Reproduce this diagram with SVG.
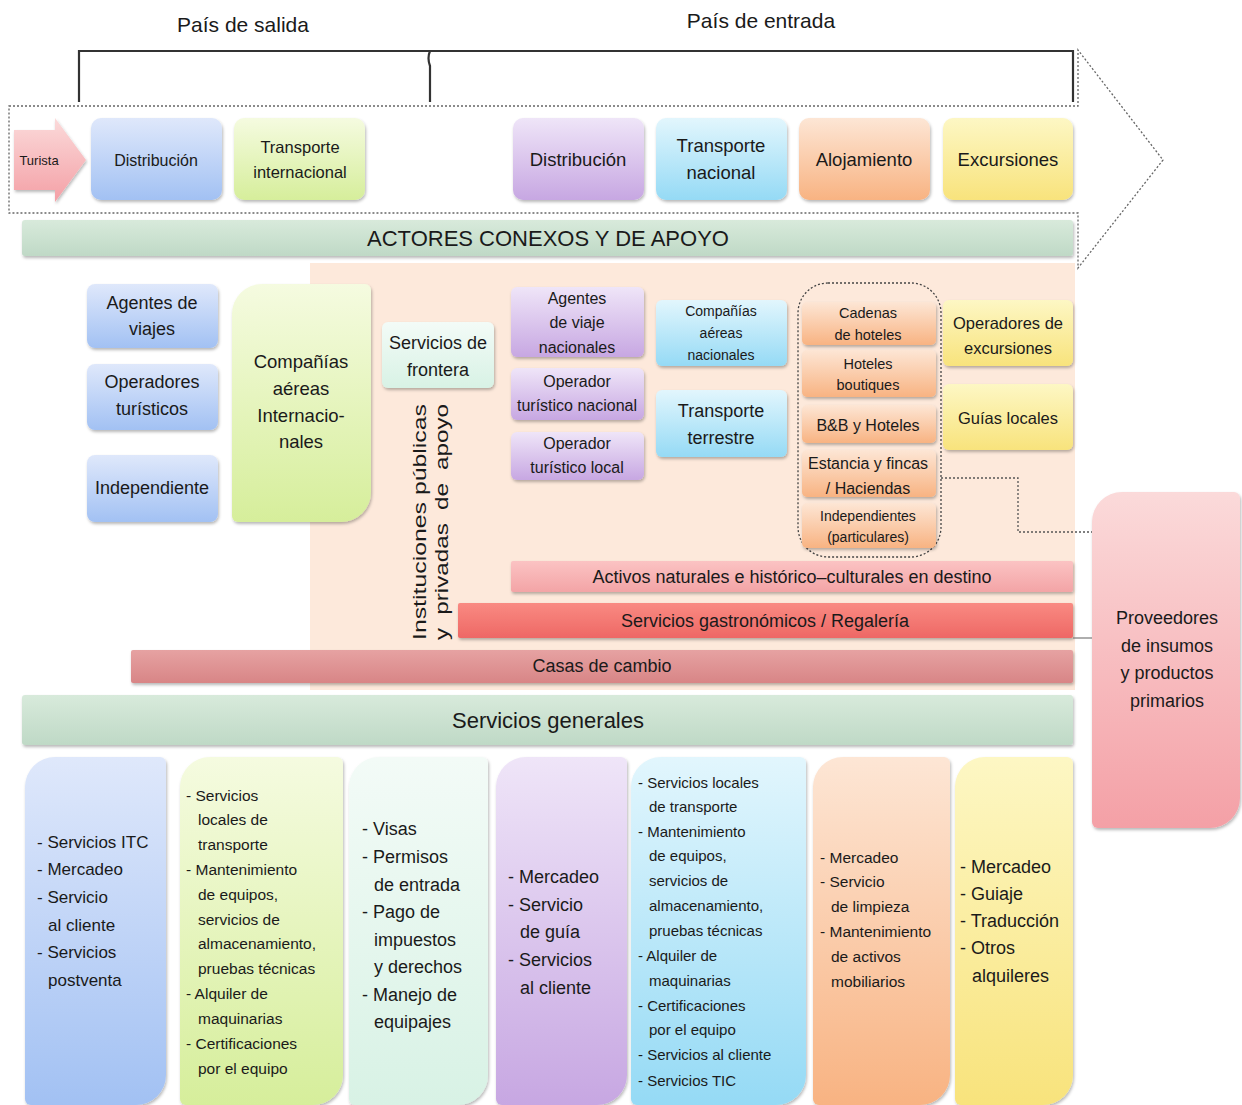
<svg xmlns="http://www.w3.org/2000/svg" width="1242" height="1105" viewBox="0 0 1242 1105">
<defs>
<linearGradient id="gBlue" x1="0" y1="0" x2="0" y2="1"><stop offset="0" stop-color="#dfe8fb"/><stop offset="1" stop-color="#a2c1f3"/></linearGradient>
<linearGradient id="gGreen" x1="0" y1="0" x2="0" y2="1"><stop offset="0" stop-color="#f5fbe0"/><stop offset="1" stop-color="#d6ee9b"/></linearGradient>
<linearGradient id="gMint" x1="0" y1="0" x2="0" y2="1"><stop offset="0" stop-color="#f3fbf7"/><stop offset="1" stop-color="#d8f2e5"/></linearGradient>
<linearGradient id="gPurple" x1="0" y1="0" x2="0" y2="1"><stop offset="0" stop-color="#efe5f8"/><stop offset="1" stop-color="#c7a7e2"/></linearGradient>
<linearGradient id="gCyan" x1="0" y1="0" x2="0" y2="1"><stop offset="0" stop-color="#e2f6fd"/><stop offset="1" stop-color="#95daf5"/></linearGradient>
<linearGradient id="gOrange" x1="0" y1="0" x2="0" y2="1"><stop offset="0" stop-color="#fde6d5"/><stop offset="1" stop-color="#f8b382"/></linearGradient>
<linearGradient id="gYellow" x1="0" y1="0" x2="0" y2="1"><stop offset="0" stop-color="#fdf7c4"/><stop offset="1" stop-color="#f8e37c"/></linearGradient>
<linearGradient id="gPink" x1="0" y1="0" x2="0" y2="1"><stop offset="0" stop-color="#fbdada"/><stop offset="1" stop-color="#f4a0a6"/></linearGradient>
<linearGradient id="gGrey" x1="0" y1="0" x2="0" y2="1"><stop offset="0" stop-color="#d8eadb"/><stop offset="1" stop-color="#bfd9c6"/></linearGradient>
<linearGradient id="gActivos" x1="0" y1="0" x2="0" y2="1"><stop offset="0" stop-color="#fbc3c3"/><stop offset="1" stop-color="#f3a4a6"/></linearGradient>
<linearGradient id="gGastro" x1="0" y1="0" x2="0" y2="1"><stop offset="0" stop-color="#f98a82"/><stop offset="1" stop-color="#ee6865"/></linearGradient>
<linearGradient id="gCasas" x1="0" y1="0" x2="0" y2="1"><stop offset="0" stop-color="#e6a2a2"/><stop offset="1" stop-color="#d88586"/></linearGradient>
<filter id="sh" x="-10%" y="-10%" width="130%" height="130%"><feDropShadow dx="1" dy="2" stdDeviation="1.5" flood-color="#000" flood-opacity="0.28"/></filter>
</defs>
<style>
text{font-family:"Liberation Sans",Arial,sans-serif;fill:#1a1a1a}
.c{text-anchor:middle}
.dot{fill:none;stroke:#666;stroke-width:1.3;stroke-dasharray:2 2}
.brk{fill:none;stroke:#333;stroke-width:2.2}
.box{filter:url(#sh)}
</style>
<rect width="1242" height="1105" fill="#ffffff"/>

<g id="headers">
<text class="c" x="243" y="32" font-size="21">País de salida</text>
<text class="c" x="761" y="28" font-size="21">País de entrada</text>
<path class="brk" d="M79,102 V51 H1073 V102 M430,51 Q427,58 430,66 V102"/>
</g>

<g id="value-chain-arrow">
<path class="dot" d="M9,106 H1078 V50 L1163,160 L1078,268 V213 H9 Z"/>
</g>

<g id="turista">
<polygon class="box" points="14,130 55,130 55,118 86,160 55,202 55,190 14,190" fill="url(#gPink)"/>
<text class="c" x="39" y="165" font-size="13">Turista</text>
</g>
<g id="distribucion-salida">
<rect class="box" x="91" y="118" width="131" height="82" rx="10" fill="url(#gBlue)"/>
<text class="c" x="156" y="166" font-size="16">Distribución</text>
</g>
<g id="transporte-internacional">
<rect class="box" x="234" y="118" width="131" height="82" rx="10" fill="url(#gGreen)"/>
<text class="c" x="300" y="153" font-size="16.5">Transporte</text>
<text class="c" x="300" y="178" font-size="16.5">internacional</text>
</g>
<g id="distribucion-entrada">
<rect class="box" x="513" y="118" width="131" height="82" rx="10" fill="url(#gPurple)"/>
<text class="c" x="578" y="166" font-size="18.5">Distribución</text>
</g>
<g id="transporte-nacional">
<rect class="box" x="656" y="118" width="131" height="82" rx="10" fill="url(#gCyan)"/>
<text class="c" x="721" y="152" font-size="18.5">Transporte</text>
<text class="c" x="721" y="179" font-size="18.5">nacional</text>
</g>
<g id="alojamiento">
<rect class="box" x="799" y="118" width="131" height="82" rx="10" fill="url(#gOrange)"/>
<text class="c" x="864" y="166" font-size="18.5">Alojamiento</text>
</g>
<g id="excursiones">
<rect class="box" x="943" y="118" width="130" height="82" rx="10" fill="url(#gYellow)"/>
<text class="c" x="1008" y="166" font-size="18.5">Excursiones</text>
</g>

<g id="actores-conexos">
<rect class="box" x="22" y="220" width="1051" height="36" rx="3" fill="url(#gGrey)"/>
<text class="c" x="548" y="246" font-size="22">ACTORES CONEXOS Y DE APOYO</text>
</g>

<g id="panel-destino">
<rect x="310" y="263" width="765" height="427" fill="#fde9db"/>
</g>

<g id="agentes-de-viajes">
<rect class="box" x="87" y="284" width="131" height="64" rx="8" fill="url(#gBlue)"/>
<text class="c" x="152" y="309" font-size="18">Agentes de</text>
<text class="c" x="152" y="335" font-size="18">viajes</text>
</g>
<g id="operadores-turisticos">
<rect class="box" x="87" y="364" width="131" height="66" rx="8" fill="url(#gBlue)"/>
<text class="c" x="152" y="388" font-size="18">Operadores</text>
<text class="c" x="152" y="415" font-size="18">turísticos</text>
</g>
<g id="independiente">
<rect class="box" x="87" y="455" width="131" height="67" rx="8" fill="url(#gBlue)"/>
<text class="c" x="152" y="494" font-size="18">Independiente</text>
</g>
<g id="companias-aereas-internacionales">
<path class="box" d="M262,284 H365 A6 6 0 0 1 371,290 V492 A30 30 0 0 1 341,522 H238 A6 6 0 0 1 232,516 V314 A30 30 0 0 1 262,284 Z" fill="url(#gGreen)"/>
<text class="c" x="301" y="368" font-size="18.5">Compañías</text>
<text class="c" x="301" y="395" font-size="18.5">aéreas</text>
<text class="c" x="301" y="422" font-size="18.5">Internacio-</text>
<text class="c" x="301" y="448" font-size="18.5">nales</text>
</g>
<g id="servicios-frontera">
<rect class="box" x="382" y="322" width="112" height="66" rx="6" fill="url(#gMint)"/>
<text class="c" x="438" y="349" font-size="18">Servicios de</text>
<text class="c" x="438" y="376" font-size="18">frontera</text>
</g>
<g id="instituciones">
<text transform="translate(426,640) rotate(-90)" font-size="19" textLength="236" lengthAdjust="spacingAndGlyphs">Instituciones públicas</text>
<text transform="translate(448,640) rotate(-90)" font-size="19" word-spacing="5" textLength="236" lengthAdjust="spacingAndGlyphs">y privadas de apoyo</text>
</g>

<g id="agentes-viaje-nacionales">
<rect class="box" x="511" y="287" width="133" height="70" rx="6" fill="url(#gPurple)"/>
<text class="c" x="577" y="304" font-size="16">Agentes</text>
<text class="c" x="577" y="328" font-size="16">de viaje</text>
<text class="c" x="577" y="353" font-size="16">nacionales</text>
</g>
<g id="operador-turistico-nacional">
<rect class="box" x="511" y="368" width="133" height="52" rx="6" fill="url(#gPurple)"/>
<text class="c" x="577" y="387" font-size="16">Operador</text>
<text class="c" x="577" y="411" font-size="16">turístico nacional</text>
</g>
<g id="operador-turistico-local">
<rect class="box" x="511" y="432" width="133" height="48" rx="6" fill="url(#gPurple)"/>
<text class="c" x="577" y="449" font-size="16">Operador</text>
<text class="c" x="577" y="473" font-size="16">turístico local</text>
</g>
<g id="companias-aereas-nacionales">
<rect class="box" x="656" y="300" width="131" height="66" rx="6" fill="url(#gCyan)"/>
<text class="c" x="721" y="316" font-size="14">Compañías</text>
<text class="c" x="721" y="338" font-size="14">aéreas</text>
<text class="c" x="721" y="360" font-size="14">nacionales</text>
</g>
<g id="transporte-terrestre">
<rect class="box" x="656" y="390" width="131" height="67" rx="6" fill="url(#gCyan)"/>
<text class="c" x="721" y="417" font-size="18">Transporte</text>
<text class="c" x="721" y="444" font-size="18">terrestre</text>
</g>

<g id="alojamiento-grupo">
<rect class="dot" x="798" y="283" width="143" height="274" rx="30" style="stroke:#444"/>
</g>
<g id="cadenas-hoteles">
<rect class="box" x="802" y="302" width="134" height="43" rx="5" fill="url(#gOrange)"/>
<text class="c" x="868" y="318" font-size="14.5">Cadenas</text>
<text class="c" x="868" y="340" font-size="14.5">de hoteles</text>
</g>
<g id="hoteles-boutiques">
<rect class="box" x="802" y="350" width="134" height="47" rx="5" fill="url(#gOrange)"/>
<text class="c" x="868" y="369" font-size="14.5">Hoteles</text>
<text class="c" x="868" y="390" font-size="14.5">boutiques</text>
</g>
<g id="bb-hoteles">
<rect class="box" x="802" y="405" width="134" height="38" rx="5" fill="url(#gOrange)"/>
<text class="c" x="868" y="431" font-size="16">B&amp;B y Hoteles</text>
</g>
<g id="estancias">
<rect class="box" x="802" y="450" width="134" height="47" rx="5" fill="url(#gOrange)"/>
<text class="c" x="868" y="469" font-size="16">Estancia y fincas</text>
<text class="c" x="868" y="494" font-size="16">/ Haciendas</text>
</g>
<g id="independientes">
<rect class="box" x="802" y="503" width="134" height="45" rx="5" fill="url(#gOrange)"/>
<text class="c" x="868" y="521" font-size="14">Independientes</text>
<text class="c" x="868" y="542" font-size="14">(particulares)</text>
</g>

<g id="operadores-excursiones">
<rect class="box" x="943" y="300" width="130" height="66" rx="6" fill="url(#gYellow)"/>
<text class="c" x="1008" y="329" font-size="16.5">Operadores de</text>
<text class="c" x="1008" y="354" font-size="16.5">excursiones</text>
</g>
<g id="guias-locales">
<rect class="box" x="943" y="384" width="130" height="66" rx="6" fill="url(#gYellow)"/>
<text class="c" x="1008" y="424" font-size="16.5">Guías locales</text>
</g>

<g id="activos-naturales">
<rect class="box" x="511" y="561" width="562" height="31" rx="2" fill="url(#gActivos)"/>
<text class="c" x="792" y="583" font-size="18">Activos naturales e histórico–culturales en destino</text>
</g>
<g id="servicios-gastronomicos">
<rect class="box" x="458" y="603" width="615" height="35" rx="2" fill="url(#gGastro)"/>
<text class="c" x="765" y="627" font-size="18">Servicios gastronómicos / Regalería</text>
</g>
<g id="casas-cambio">
<rect class="box" x="131" y="650" width="942" height="33" rx="2" fill="url(#gCasas)"/>
<text class="c" x="602" y="672" font-size="18">Casas de cambio</text>
</g>
<g id="servicios-generales">
<rect class="box" x="22" y="695" width="1051" height="50" rx="3" fill="url(#gGrey)"/>
<text class="c" x="548" y="728" font-size="22">Servicios generales</text>
</g>

<g id="proveedores">
<path class="box" d="M1122,492 H1234 A6 6 0 0 1 1240,498 V798 A30 30 0 0 1 1210,828 H1098 A6 6 0 0 1 1092,822 V522 A30 30 0 0 1 1122,492 Z" fill="url(#gPink)"/>
<text class="c" x="1167" y="624" font-size="18">Proveedores</text>
<text class="c" x="1167" y="652" font-size="18">de insumos</text>
<text class="c" x="1167" y="679" font-size="18">y productos</text>
<text class="c" x="1167" y="707" font-size="18">primarios</text>
</g>

<g id="connectors">
<path class="dot" d="M941,478 H1018 V532 H1092" style="stroke:#555"/>
<path d="M1073,638 H1092" fill="none" stroke="#777" stroke-width="1.2"/>
</g>

<g id="col-distribucion-salida">
<path class="box" d="M55,757 H160 A6 6 0 0 1 166,763 V1075 A30 30 0 0 1 136,1105 H31 A6 6 0 0 1 25,1099 V787 A30 30 0 0 1 55,757 Z" fill="url(#gBlue)"/>
<text font-size="17"><tspan x="37" y="848">- Servicios ITC</tspan><tspan x="37" y="875">- Mercadeo</tspan><tspan x="37" y="903">- Servicio</tspan><tspan x="48" y="931">al cliente</tspan><tspan x="37" y="958">- Servicios</tspan><tspan x="48" y="986">postventa</tspan></text>
</g>
<g id="col-transporte-internacional">
<path class="box" d="M210,757 H337 A6 6 0 0 1 343,763 V1075 A30 30 0 0 1 313,1105 H186 A6 6 0 0 1 180,1099 V787 A30 30 0 0 1 210,757 Z" fill="url(#gGreen)"/>
<text font-size="15.5"><tspan x="186" y="801">- Servicios</tspan><tspan x="198" y="825">locales de</tspan><tspan x="198" y="850">transporte</tspan><tspan x="186" y="875">- Mantenimiento</tspan><tspan x="198" y="900">de equipos,</tspan><tspan x="198" y="925">servicios de</tspan><tspan x="198" y="949">almacenamiento,</tspan><tspan x="198" y="974">pruebas técnicas</tspan><tspan x="186" y="999">- Alquiler de</tspan><tspan x="198" y="1024">maquinarias</tspan><tspan x="186" y="1049">- Certificaciones</tspan><tspan x="198" y="1074">por el equipo</tspan></text>
</g>
<g id="col-servicios-frontera">
<path class="box" d="M379,757 H482 A6 6 0 0 1 488,763 V1075 A30 30 0 0 1 458,1105 H355 A6 6 0 0 1 349,1099 V787 A30 30 0 0 1 379,757 Z" fill="url(#gMint)"/>
<text font-size="18"><tspan x="362" y="835">- Visas</tspan><tspan x="362" y="863">- Permisos</tspan><tspan x="374" y="891">de entrada</tspan><tspan x="362" y="918">- Pago de</tspan><tspan x="374" y="946">impuestos</tspan><tspan x="374" y="973">y derechos</tspan><tspan x="362" y="1001">- Manejo de</tspan><tspan x="374" y="1028">equipajes</tspan></text>
</g>
<g id="col-distribucion-entrada">
<path class="box" d="M526,757 H621 A6 6 0 0 1 627,763 V1075 A30 30 0 0 1 597,1105 H502 A6 6 0 0 1 496,1099 V787 A30 30 0 0 1 526,757 Z" fill="url(#gPurple)"/>
<text font-size="18"><tspan x="508" y="883">- Mercadeo</tspan><tspan x="508" y="911">- Servicio</tspan><tspan x="520" y="938">de guía</tspan><tspan x="508" y="966">- Servicios</tspan><tspan x="520" y="994">al cliente</tspan></text>
</g>
<g id="col-transporte-nacional">
<path class="box" d="M661,757 H800 A6 6 0 0 1 806,763 V1075 A30 30 0 0 1 776,1105 H637 A6 6 0 0 1 631,1099 V787 A30 30 0 0 1 661,757 Z" fill="url(#gCyan)"/>
<text font-size="15"><tspan x="638" y="788">- Servicios locales</tspan><tspan x="649" y="812">de transporte</tspan><tspan x="638" y="837">- Mantenimiento</tspan><tspan x="649" y="861">de equipos,</tspan><tspan x="649" y="886">servicios de</tspan><tspan x="649" y="911">almacenamiento,</tspan><tspan x="649" y="936">pruebas técnicas</tspan><tspan x="638" y="961">- Alquiler de</tspan><tspan x="649" y="986">maquinarias</tspan><tspan x="638" y="1011">- Certificaciones</tspan><tspan x="649" y="1035">por el equipo</tspan><tspan x="638" y="1060">- Servicios al cliente</tspan><tspan x="638" y="1086">- Servicios TIC</tspan></text>
</g>
<g id="col-alojamiento">
<path class="box" d="M843,757 H944 A6 6 0 0 1 950,763 V1075 A30 30 0 0 1 920,1105 H819 A6 6 0 0 1 813,1099 V787 A30 30 0 0 1 843,757 Z" fill="url(#gOrange)"/>
<text font-size="15.5"><tspan x="820" y="863">- Mercadeo</tspan><tspan x="820" y="887">- Servicio</tspan><tspan x="831" y="912">de limpieza</tspan><tspan x="820" y="937">- Mantenimiento</tspan><tspan x="831" y="962">de activos</tspan><tspan x="831" y="987">mobiliarios</tspan></text>
</g>
<g id="col-excursiones">
<path class="box" d="M985,757 H1067 A6 6 0 0 1 1073,763 V1075 A30 30 0 0 1 1043,1105 H961 A6 6 0 0 1 955,1099 V787 A30 30 0 0 1 985,757 Z" fill="url(#gYellow)"/>
<text font-size="18"><tspan x="960" y="873">- Mercadeo</tspan><tspan x="960" y="900">- Guiaje</tspan><tspan x="960" y="927">- Traducción</tspan><tspan x="960" y="954">- Otros</tspan><tspan x="972" y="982">alquileres</tspan></text>
</g>
</svg>
